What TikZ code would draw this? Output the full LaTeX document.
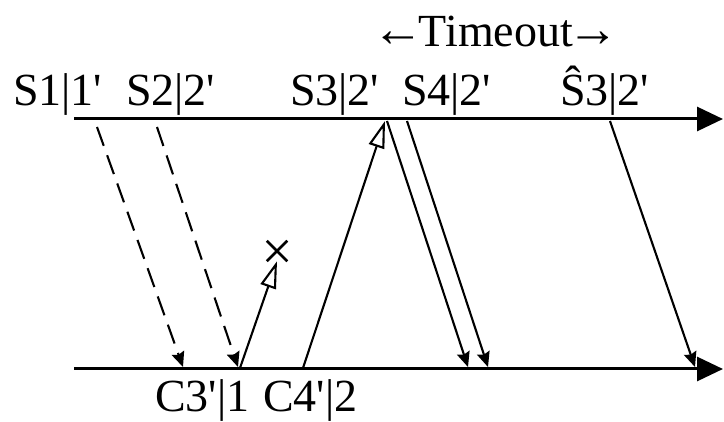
\documentclass[tikz,border=0pt]{standalone}
\usepackage{fontspec}
\setmainfont{Liberation Serif}
\usepackage{tikz}
\usetikzlibrary{arrows.meta,shapes.misc}
\newcommand{\ap}{\textquotesingle}
\newcommand{\tarrow}[1]{\scalebox{1.12}{#1}}

\begin{document}
\begin{tikzpicture}[x=1pt, y=-1pt,
      lbl/.style={anchor=base west, inner sep=0pt, font=\fontsize{46}{50}\selectfont},
      timeline/.style={line width=3pt, -{Triangle[length=26pt, width=24pt]}},
      msg/.style={line width=2.1pt, -{Stealth[length=15pt, width=13pt, inset=2pt]}},
      ack/.style={line width=2.1pt, -{Triangle[open, length=27pt, width=16pt]}},
      lostmark/.style={cross out, draw, line width=2.5pt, minimum size=18pt, inner sep=0pt}
    ]
      \useasboundingbox (0,0) rectangle (724,422);
      % time lines
      \coordinate (t0) at (74,119);
      \coordinate (t1) at (723,119);
      \coordinate (b0) at (74,369);
      \coordinate (b1) at (723,369);
      \draw[timeline] (t0) -- (t1);
      \draw[timeline] (b0) -- (b1);

      % event labels
      \node[lbl] (s1) at (13,106) {S1|1\ap};
      \node[lbl] (s2) at (126,106) {S2|2\ap};
      \node[lbl] (s3) at (290,106) {S3|2\ap};
      \node[lbl] (s4) at (402,106) {S4|2\ap};
      \node[lbl] (s3r) at (560,106) {Ŝ3|2\ap};
      \node[lbl] (tmo) at (372,47) {\tarrow{←}\kern-5pt Timeout\kern-5pt\tarrow{→}};
      \node[lbl] (c3) at (155,412) {C3\ap|1};
      \node[lbl] (c4) at (263,412) {C4\ap|2};

      % message end points
      \coordinate (m1a) at (97,127);   \coordinate (m1b) at (183,367);
      \coordinate (m2a) at (157,127);  \coordinate (m2b) at (238,367);
      \coordinate (m3a) at (240,368);
      \coordinate (m4a) at (303,368);  \coordinate (m4b) at (385,121);
      \coordinate (m5a) at (387,121);  \coordinate (m5b) at (468,367);
      \coordinate (m6a) at (407,121);  \coordinate (m6b) at (488,367);
      \coordinate (m7a) at (610,121);  \coordinate (m7b) at (695,367);
      \node[lostmark] (lost) at (277,251) {};

      \draw[msg, dash pattern=on 20pt off 10pt] (m1a) -- (m1b);
      \draw[msg, dash pattern=on 20pt off 10pt] (m2a) -- (m2b);
      \draw[ack] (m3a) -- (lost.south);
      \draw[ack] (m4a) -- (m4b);
      \draw[msg] (m5a) -- (m5b);
      \draw[msg] (m6a) -- (m6b);
      \draw[msg] (m7a) -- (m7b);
    \end{tikzpicture}
\end{document}
